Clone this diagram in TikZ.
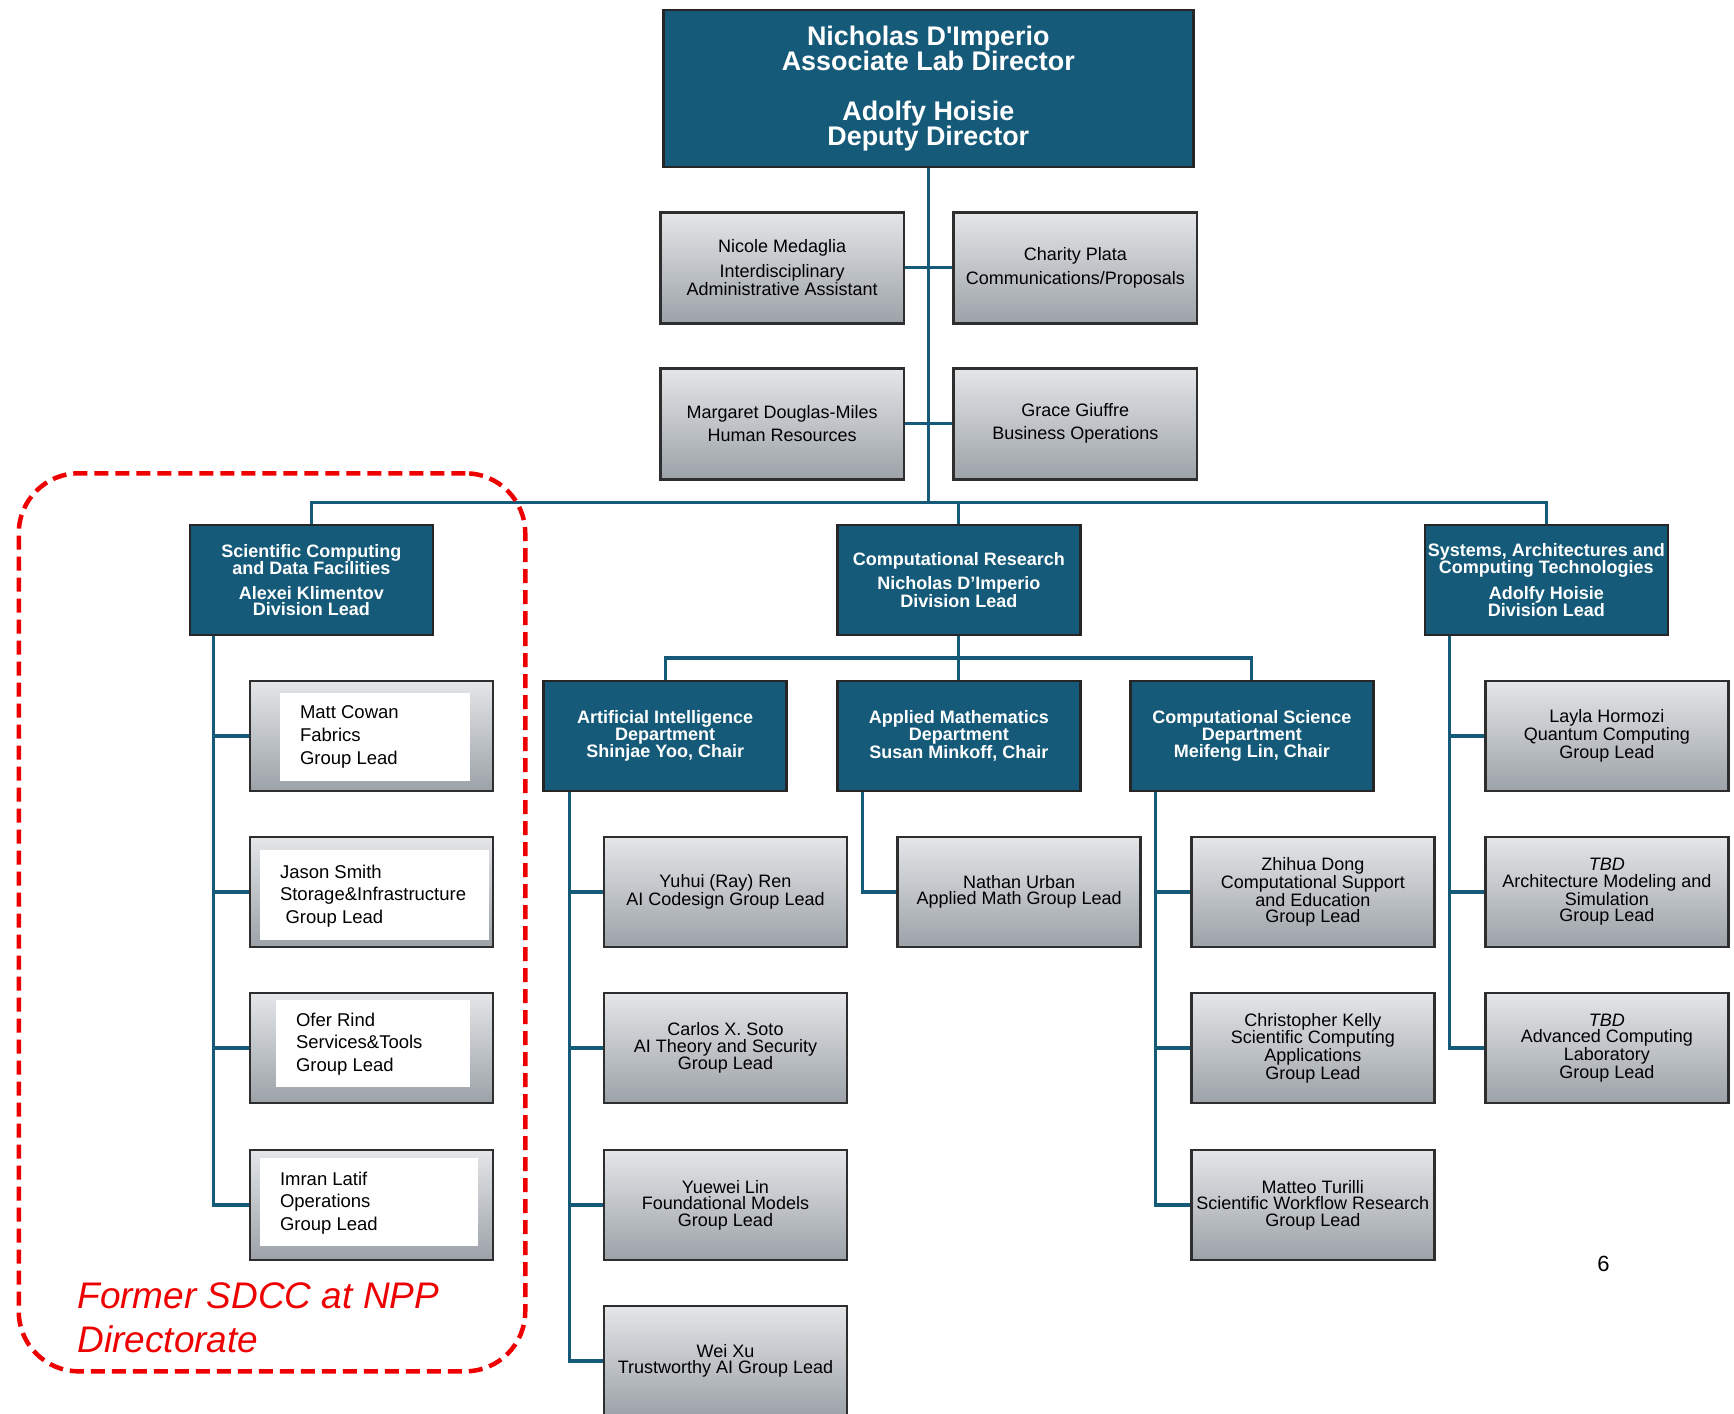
\documentclass[tikz,border=0pt]{standalone}
\usepackage{fontspec}
\setmainfont{Liberation Sans}
\usetikzlibrary{backgrounds}
\definecolor{orgteal}{HTML}{155A78}
\definecolor{boxtop}{HTML}{E4E6E8}
\definecolor{boxbot}{HTML}{9CA2A8}
\definecolor{edgegray}{HTML}{2E2E2E}
\definecolor{sdccred}{HTML}{EE0000}
\begin{document}
\begin{tikzpicture}[x=1pt,y=-1pt,
  every node/.style={inner sep=0pt, outer sep=0pt},
  teambox/.style={draw=black!85, line width=2.6pt, fill=orgteal, text=white,
    font=\bfseries\fontsize{18}{16.6}\selectfont, align=center,
    minimum width=243pt, minimum height=110pt},
  headbox/.style={teambox, minimum width=530pt, minimum height=157pt,
    font=\bfseries\fontsize{26.9}{25.5}\selectfont},
  groupbox/.style={draw=edgegray, line width=2.6pt, top color=boxtop, bottom color=boxbot,
    font=\fontsize{18}{16.6}\selectfont, align=center,
    minimum width=243pt, minimum height=110pt},
  adminbox/.style={groupbox, minimum width=243.7pt, minimum height=111pt},
  namecard/.style={fill=white},
  cardtext/.style={anchor=west, align=left, font=\fontsize{18.5}{22.7}\selectfont},
  link/.style={draw=orgteal, line width=3.3pt},
  sdccframe/.style={draw=sdccred, line width=4.5pt, dash pattern=on 14pt off 7pt,
    rounded corners=60pt},
]
\useasboundingbox (0,0) rectangle (1734,1413);

% ---- directorate office ----
\node[headbox] (ald) at (928.3,88.5)
  {Nicholas D\textquotesingle Imperio\\Associate Lab Director\\[24.2pt]Adolfy Hoisie\\Deputy Director};

\node[adminbox] (nicole) at (782.1,267.8)
  {Nicole Medaglia\\[7pt]Interdisciplinary\\Administrative Assistant};
\node[adminbox] (charity) at (1075.3,267.8)
  {Charity Plata\\[6.4pt]Communications/Proposals};
\node[adminbox] (margaret) at (782.1,423.8)
  {Margaret Douglas-Miles\\[6.4pt]Human Resources};
\node[adminbox] (grace) at (1075.3,423.8)
  {Grace Giuffre\\[6.4pt]Business Operations};

% ---- divisions ----
\node[teambox] (scdf) at (311.3,580)
  {Scientific Computing\\and Data Facilities\\[7.6pt]Alexei Klimentov\\Division Lead};
\node[teambox] (cr) at (958.8,580)
  {Computational Research\\[6.6pt]Nicholas D’Imperio\\Division Lead};
\node[teambox] (sact) at (1546.3,580)
  {Systems, Architectures and\\Computing Technologies\\[7.4pt]Adolfy Hoisie\\Division Lead};

% ---- departments ----
\node[teambox] (ai) at (665.2,736)
  {Artificial Intelligence\\Department\\Shinjae Yoo, Chair};
\node[teambox] (am) at (958.8,736)
  {Applied Mathematics\\Department\\Susan Minkoff, Chair};
\node[teambox] (cs) at (1251.8,736)
  {Computational Science\\Department\\Meifeng Lin, Chair};

% ---- SCDF groups ----
\node[groupbox] (matt) at (371.6,736) {};
\node[groupbox] (jason) at (371.6,892) {};
\node[groupbox] (ofer) at (371.6,1048) {};
\node[groupbox] (imran) at (371.6,1205) {};
\node[namecard, minimum width=190pt, minimum height=87.3pt] (mattcard) at (375,737) {};
\node[namecard, minimum width=228.8pt, minimum height=89.6pt] (jasoncard) at (374.4,895.2) {};
\node[namecard, minimum width=193.5pt, minimum height=87.3pt] (ofercard) at (373.2,1043.4) {};
\node[namecard, minimum width=217.7pt, minimum height=88.5pt] (imrancard) at (368.8,1202) {};
\node[cardtext] (matttxt) at (300,737) {Matt Cowan\\Fabrics\\Group Lead};
\node[cardtext] (jasontxt) at (280,896) {Jason Smith\\Storage\&Infrastructure\\\hspace*{5.5pt}Group Lead};
\node[cardtext] (ofertxt) at (296,1044) {Ofer Rind\\Services\&Tools\\Group Lead};
\node[cardtext] (imrantxt) at (280,1203) {Imran Latif\\Operations\\Group Lead};

% ---- AI groups ----
\node[groupbox] (yuhui) at (725.5,892) {Yuhui (Ray) Ren\\AI Codesign Group Lead};
\node[groupbox] (carlos) at (725.5,1048) {Carlos X. Soto\\AI Theory and Security\\Group Lead};
\node[groupbox] (yuewei) at (725.5,1205) {Yuewei Lin\\Foundational Models\\Group Lead};
\node[groupbox] (weixu) at (725.5,1361) {Wei Xu\\Trustworthy AI Group Lead};

% ---- AM group ----
\node[groupbox] (nathan) at (1019.1,892) {Nathan Urban\\Applied Math Group Lead};

% ---- CS groups ----
\node[groupbox] (zhihua) at (1312.8,892) {Zhihua Dong\\Computational Support\\and Education\\Group Lead};
\node[groupbox] (kelly) at (1312.8,1048) {Christopher Kelly\\Scientific Computing\\Applications\\Group Lead};
\node[groupbox] (matteo) at (1312.8,1205) {Matteo Turilli\\Scientific Workflow Research\\Group Lead};

% ---- SACT groups ----
\node[groupbox] (layla) at (1606.9,736) {Layla Hormozi\\Quantum Computing\\Group Lead};
\node[groupbox] (amsim) at (1606.9,892) {\textit{TBD}\\Architecture Modeling and\\Simulation\\Group Lead};
\node[groupbox] (acl) at (1606.9,1048) {\textit{TBD}\\Advanced Computing\\Laboratory\\Group Lead};

% ---- connectors ----
\coordinate (bus) at (928.3,502.5);
\coordinate (deptbus) at (958.8,658);
\coordinate (scdftrunk) at (213.4,635);
\coordinate (aitrunk) at (569.5,790.7);
\coordinate (amtrunk) at (862.6,790.7);
\coordinate (cstrunk) at (1155.6,790.7);
\coordinate (sacttrunk) at (1449.3,635);
\begin{scope}[on background layer]
  \draw[link] (ald.south) -- (bus);
  \draw[link] (nicole.east) -- (charity.west);
  \draw[link] (margaret.east) -- (grace.west);
  \draw[link] (scdf.north) |- (bus) -| (sact.north);
  \draw[link] (bus) -| (cr.north);
  \draw[link] (cr.south) -- (deptbus);
  \draw[link] (ai.north) |- (deptbus) -| (cs.north);
  \draw[link] (deptbus) -- (am.north);

  \draw[link] (scdftrunk) |- (imran.west);
  \draw[link] (scdftrunk |- matt.west) -- (matt.west);
  \draw[link] (scdftrunk |- jason.west) -- (jason.west);
  \draw[link] (scdftrunk |- ofer.west) -- (ofer.west);

  \draw[link] (aitrunk) |- (weixu.west);
  \draw[link] (aitrunk |- yuhui.west) -- (yuhui.west);
  \draw[link] (aitrunk |- carlos.west) -- (carlos.west);
  \draw[link] (aitrunk |- yuewei.west) -- (yuewei.west);

  \draw[link] (amtrunk) |- (nathan.west);

  \draw[link] (cstrunk) |- (matteo.west);
  \draw[link] (cstrunk |- zhihua.west) -- (zhihua.west);
  \draw[link] (cstrunk |- kelly.west) -- (kelly.west);

  \draw[link] (sacttrunk) |- (acl.west);
  \draw[link] (sacttrunk |- layla.west) -- (layla.west);
  \draw[link] (sacttrunk |- amsim.west) -- (amsim.west);
\end{scope}

% ---- former SDCC outline ----
\node[sdccframe, minimum width=506.5pt, minimum height=898pt] (sdcc) at (272,922.3) {};
\node[anchor=west, align=left, text=sdccred, font=\itshape\fontsize{37}{44}\selectfont]
  (sdcclabel) at (77.4,1318) {Former SDCC at NPP\\Directorate};

% ---- page number ----
\node[font=\fontsize{22}{26}\selectfont] (pagenum) at (1603.5,1264) {6};
\end{tikzpicture}
\end{document}
